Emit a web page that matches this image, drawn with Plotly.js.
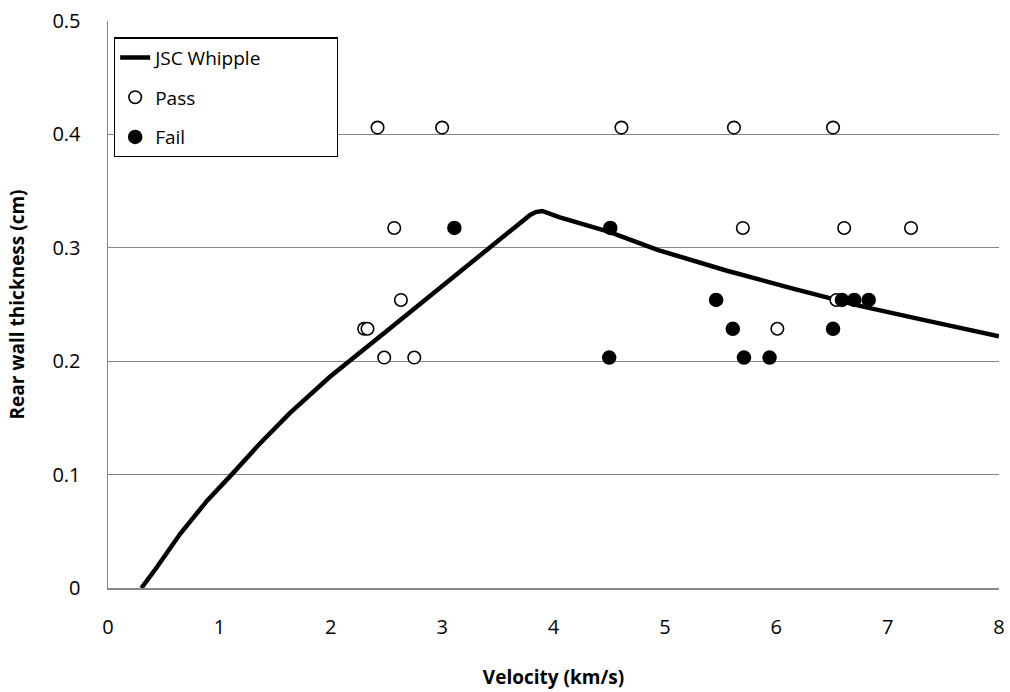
<!DOCTYPE html>
<html>
<head>
<meta charset="utf-8">
<script src="https://cdn.plot.ly/plotly-3.0.1.min.js"></script>
<style>html,body{margin:0;padding:0;background:#fff;}#chart{width:1010px;height:692px;}</style>
</head>
<body>
<div id="chart"></div>
<script>
// JSC Whipple ballistic limit curve
const curveV = [0.30, 0.44, 0.65, 0.89, 1.11, 1.36, 1.63, 1.90, 1.99, 2.50, 2.89, 3.40, 3.79, 3.84, 3.90, 4.05, 4.50, 4.94, 5.55, 6.15, 6.74, 7.34, 8.00];
const curveT = [0.000, 0.0185, 0.048, 0.077, 0.100, 0.127, 0.154, 0.179, 0.186, 0.2265, 0.2575, 0.298, 0.329, 0.3315, 0.3325, 0.327, 0.314, 0.298, 0.280, 0.264, 0.249, 0.236, 0.222];

// Test results
const passV = [2.42, 3.00, 4.61, 5.62, 6.51, 2.57, 5.70, 6.61, 7.21, 2.63, 6.54, 2.30, 2.33, 6.01, 2.48, 2.75];
const passT = [0.406, 0.406, 0.406, 0.406, 0.406, 0.3175, 0.3175, 0.3175, 0.3175, 0.254, 0.254, 0.2286, 0.2286, 0.2286, 0.2032, 0.2032];
const failV = [3.11, 4.51, 5.46, 6.59, 6.70, 6.83, 5.61, 6.51, 4.50, 5.71, 5.94];
const failT = [0.3175, 0.3175, 0.254, 0.254, 0.254, 0.254, 0.2286, 0.2286, 0.2032, 0.2032, 0.2032];

const FONT = "'Open Sans', 'Noto Sans', sans-serif";
const PAD = '\u00a0'.repeat(14);

const traces = [
  {x: curveV, y: curveT, mode: 'lines', name: 'JSC Whipple' + PAD, legendgroup: 'a',
   line: {color: '#000', width: 4.5, shape: 'linear'}},
  {x: passV, y: passT, mode: 'markers', name: 'Pass', legendgroup: 'b',
   marker: {symbol: 'circle', size: 12.5, color: '#fff', line: {color: '#000', width: 1.6}}},
  {x: failV, y: failT, mode: 'markers', name: 'Fail', legendgroup: 'c',
   marker: {symbol: 'circle', size: 14.5, color: '#000', line: {color: '#000', width: 0}}}
];

const layout = {
  width: 1010, height: 692,
  margin: {l: 108, r: 11, t: 21, b: 104},
  paper_bgcolor: '#fff', plot_bgcolor: '#fff',
  font: {family: FONT, size: 19, color: '#000'},
  showlegend: true,
  legend: {x: 0.0067, y: 0.971, xanchor: 'left', yanchor: 'top',
           bordercolor: '#000', borderwidth: 1.2, bgcolor: '#fff',
           font: {family: FONT, size: 19, color: '#000'},
           tracegroupgap: 12, traceorder: 'grouped'},
  xaxis: {range: [0, 8], dtick: 1, tick0: 0, showgrid: false, zeroline: false,
          showline: true, linecolor: '#868686', linewidth: 1.5,
          ticks: 'outside', ticklen: 20, tickcolor: 'rgba(0,0,0,0)',
          tickfont: {family: FONT, size: 20, color: '#000'},
          title: {text: '<b>Velocity (km/s)</b>', font: {family: FONT, size: 19, color: '#000'}, standoff: 32}},
  yaxis: {range: [0, 0.5], dtick: 0.1, tick0: 0, showgrid: true, gridcolor: '#868686', gridwidth: 1.2,
          zeroline: false, showline: true, linecolor: '#868686', linewidth: 1.5,
          ticks: 'outside', ticklen: 22, tickcolor: 'rgba(0,0,0,0)',
          tickfont: {family: FONT, size: 20, color: '#000'},
          title: {text: '<b>Rear wall thickness (cm)</b>', font: {family: FONT, size: 19, color: '#000'}, standoff: 22}}
};

Plotly.newPlot('chart', traces, layout, {displayModeBar: false, staticPlot: true});
</script>
</body>
</html>
